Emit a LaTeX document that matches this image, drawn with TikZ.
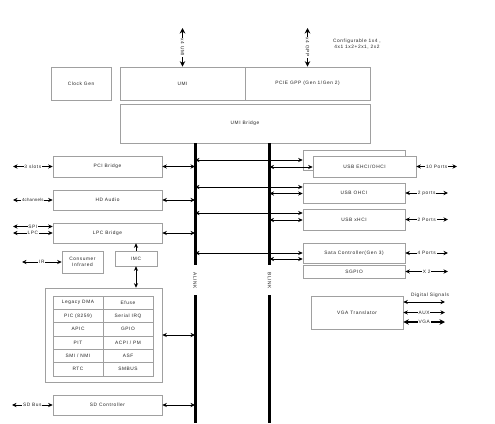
\documentclass[tikz,border=0pt]{standalone}
\usepackage{fontspec}
\setmainfont{Liberation Sans}
\usetikzlibrary{arrows.meta,calc}
\definecolor{boxgray}{HTML}{A0A0A0}
\definecolor{txt}{HTML}{222222}
\newcommand{\dgfont}{\fontsize{4.8}{5.8}\selectfont\addfontfeature{LetterSpace=12}}
\newcommand{\dgtight}{\fontsize{4.4}{5.4}\selectfont\addfontfeature{LetterSpace=4}}
\newcommand{\mybox}[6][]{\node[box,#1,minimum width={#4-#2},minimum height={#5-#3}] (#6) at ({(#2+#4)/2},{(#3+#5)/2})}
\begin{document}
\begin{tikzpicture}[x=1pt,y=-1pt,
  box/.style={draw=boxgray, line width=0.7pt, fill=white, inner sep=0pt, font=\dgfont, text=txt, align=center},
  dar/.style={{Stealth[length=4.5pt,width=4.2pt]}-{Stealth[length=4.5pt,width=4.2pt]}, line width=0.75pt},
  sar/.style={-{Stealth[length=4.5pt,width=4.2pt]}, line width=0.75pt},
  bdar/.style={{Stealth[length=5.5pt,width=5.5pt]}-{Stealth[length=5.5pt,width=5.5pt]}, line width=1.2pt},
  bus/.style={line width=3pt},
  lab/.style={fill=white, inner sep=0.8pt, font=\dgfont, text=txt}]
\useasboundingbox (0,0) rectangle (495,423);
\fill[white] (0,0) rectangle (495,423);

% top blocks
\mybox{51}{67}{111}{100}{clk} {Clock Gen};
\mybox{120}{67}{245}{100}{umi} {UMI};
\mybox{245}{67}{370}{100}{pcie} {PCIE GPP (Gen 1/Gen 2)};
\mybox{120}{104}{370}{143}{bridge} {UMI Bridge};

\coordinate (t1) at (182.5,28);
\coordinate (t2) at (307.5,28);
\draw[bdar] (t1) -- node[lab, rotate=-90]{x4 UMI} (umi.north);
\draw[bdar] (t2) -- node[lab, rotate=-90]{x4 GPP} (pcie.north);
\node[font=\dgfont, text=txt, align=center] (cfg) at (357,44) {Configurable 1x4 ,\\ 4x1 1x2+2x1, 2x2};

% buses
\coordinate (aT) at (195,143); \coordinate (aM1) at (195,265);
\coordinate (aM2) at (195,295); \coordinate (aB) at (195,423);
\coordinate (bT) at (269.5,143); \coordinate (bM1) at (269.5,265);
\coordinate (bM2) at (269.5,295); \coordinate (bB) at (269.5,423);
\draw[bus] (aT) -- (aM1); \draw[bus] (aM2) -- (aB);
\draw[bus] (bT) -- (bM1); \draw[bus] (bM2) -- (bB);
\node[lab, rotate=-90] (alab) at (195,281) {ALINK};
\node[lab, rotate=-90] (blab) at (269.5,281) {BLINK};

% left blocks
\mybox{53}{156}{162}{177}{pci} {PCI Bridge};
\mybox{53}{190}{162}{210}{hda} {HD Audio};
\mybox{53}{223}{162}{243}{lpc} {LPC Bridge};
\mybox{62}{251}{103}{273}{cir} {Consumer\\[-0.3pt]Infrared};
\mybox{115}{251}{157}{266}{imc} {IMC};
\mybox{45}{288}{162}{382}{big} {};
\mybox{53}{296}{103}{309.33}{c11} {Legacy DMA};
\mybox{103}{296}{153}{309.33}{c12} {Efuse};
\mybox{53}{309.33}{103}{322.67}{c21} {PIC (8259)};
\mybox{103}{309.33}{153}{322.67}{c22} {Serial IRQ};
\mybox{53}{322.67}{103}{336}{c31} {APIC};
\mybox{103}{322.67}{153}{336}{c32} {GPIO};
\mybox{53}{336}{103}{349.33}{c41} {PIT};
\mybox{103}{336}{153}{349.33}{c42} {ACPI / PM};
\mybox{53}{349.33}{103}{362.67}{c51} {SMI / NMI};
\mybox{103}{349.33}{153}{362.67}{c52} {ASF};
\mybox{53}{362.67}{103}{376}{c61} {RTC};
\mybox{103}{362.67}{153}{376}{c62} {SMBUS};
\mybox{53}{395}{162}{415}{sd} {SD Controller};

\draw[dar] (pci.east) -- (pci.east -| aT);
\draw[dar] (hda.east) -- (hda.east -| aT);
\draw[dar] (lpc.east) -- (lpc.east -| aT);
\draw[dar] (big.east) -- (big.east -| aT);
\draw[dar] (sd.east) -- (sd.east -| aT);
\draw[sar] (imc.north) -- (imc.north |- lpc.south);
\draw[dar] (imc.south) -- (imc.south |- big.north);

\coordinate (l1) at (13,166.5);
\coordinate (l2) at (13,200);
\coordinate (l3) at (13,226.5);
\coordinate (l4) at (13,233);
\coordinate (l5) at (22,262);
\coordinate (l6) at (12,405);
\draw[dar] (l1) -- node[lab]{3 slots} (pci.west);
\draw[dar] (l2) -- node[lab, font=\dgtight]{4channels} (hda.west);
\draw[dar] (l3) -- node[lab]{SPI} (lpc.west |- l3);
\draw[dar] (l4) -- node[lab]{LPC} (lpc.west |- l4);
\draw[dar] (l5) -- node[lab]{IR} (cir.west);
\draw[dar] (l6) -- node[lab]{SD Bus} (sd.west);

% right blocks
\mybox{303}{150}{405}{170}{ehciB} {};
\mybox{313}{156}{416}{177}{ehci} {USB EHCI/OHCI};
\mybox{303}{183}{405}{203}{ohci} {USB OHCI};
\mybox{303}{209}{405}{230}{xhci} {USB xHCI};
\mybox{303}{243}{405}{263}{sata} {Sata Controller(Gen 3)};
\mybox{303}{265}{405}{278}{sgpio} {SGPIO};
\mybox{311}{296}{403}{329}{vga} {VGA Translator};

\coordinate (a1) at (195,160); \coordinate (a2) at (195,187);
\coordinate (a3) at (195,213); \coordinate (a4) at (195,253);
\coordinate (b1) at (269.5,167); \coordinate (b2) at (269.5,193.5);
\coordinate (b3) at (269.5,220); \coordinate (b4) at (269.5,259);
\draw[dar] (a1) -- (ehciB.west |- a1);
\draw[dar] (a2) -- (ohci.west |- a2);
\draw[dar] (a3) -- (xhci.west |- a3);
\draw[dar] (a4) -- (sata.west |- a4);
\draw[dar] (b1) -- (ehci.west |- b1);
\draw[dar] (b2) -- (ohci.west |- b2);
\draw[dar] (b3) -- (xhci.west |- b3);
\draw[dar] (b4) -- (sata.west |- b4);

\coordinate (r1) at (457,166.5);
\coordinate (r2) at (448,193);
\coordinate (r3) at (448,219.5);
\coordinate (r4) at (448,253);
\coordinate (r5) at (448,271.5);
\coordinate (r6) at (445,302);
\coordinate (r7) at (445,312.5);
\coordinate (r8) at (445,322);
\draw[dar] (ehci.east) -- node[lab]{10 Ports} (r1);
\draw[dar] (ohci.east) -- node[lab]{2 ports} (r2);
\draw[dar] (xhci.east) -- node[lab]{2 Ports} (r3);
\draw[dar] (sata.east) -- node[lab]{4 Ports} (r4);
\draw[dar] (sgpio.east) -- node[lab]{X 2} (r5);
\node[font=\dgfont, text=txt] (dig) at (430,295) {Digital Signals};
\draw[dar] (vga.east |- r6) -- (r6);
\draw[dar] (vga.east) -- node[lab]{AUX} (r7);
\draw[bdar] (vga.east |- r8) -- node[lab]{VGA} (r8);
\end{tikzpicture}
\end{document}
